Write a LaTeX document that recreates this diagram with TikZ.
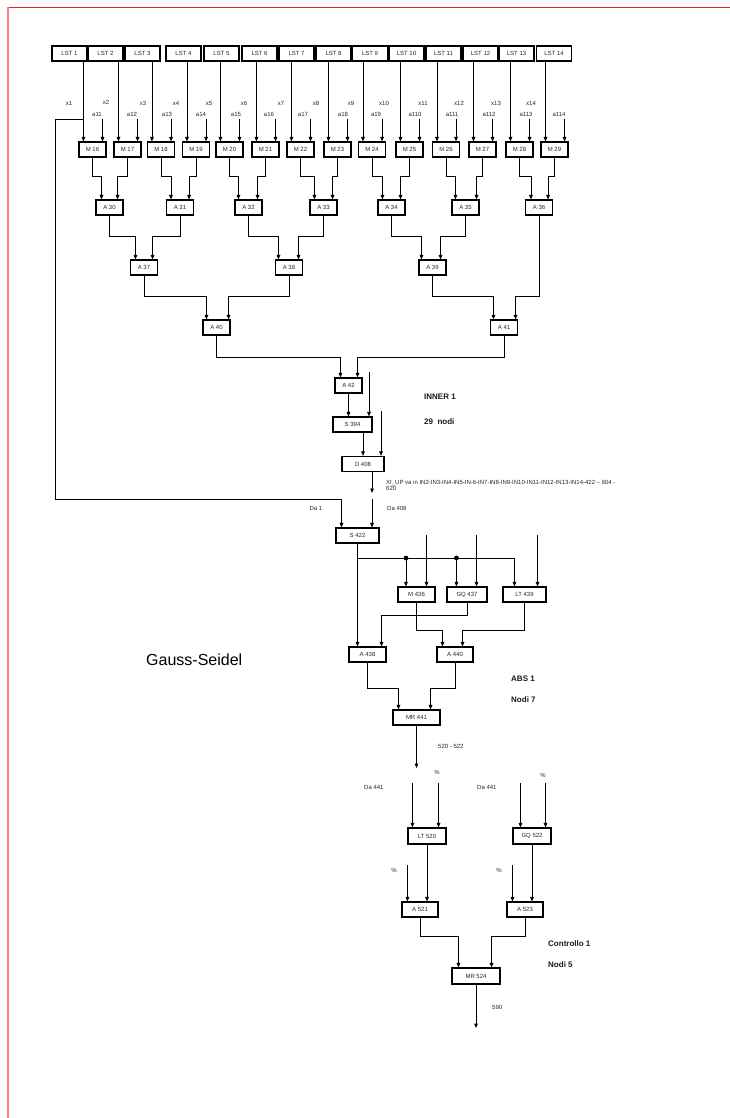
\documentclass[tikz,border=0pt]{standalone}
\usepackage{fontspec}
\setmainfont{Liberation Sans}
\usetikzlibrary{arrows.meta,calc}
\definecolor{topred}{RGB}{222,34,34}
\definecolor{leftpink}{RGB}{255,122,122}
\newcommand\lk[5]{\draw[arr] (#1.south) |- ($(#2.north #3)+(#4,-#5)$) -- ($(#2.north #3)+(#4,0)$);}
\begin{document}
\begin{tikzpicture}[x=1pt,y=-1pt,
  bx/.style={draw, line width=1.1pt, minimum height=15pt, inner sep=0pt, font=\fontsize{6}{7}\selectfont, text=black!85},
  arr/.style={line width=0.9pt, -{Triangle[length=4.5pt,width=3.6pt]}},
  ln/.style={line width=0.9pt},
  lbl/.style={font=\fontsize{6}{7}\selectfont, inner sep=0pt, text=black!85},
  big/.style={font=\bfseries\fontsize{8}{9}\selectfont, inner sep=0pt, anchor=west, text=black!90}]
\useasboundingbox (0,0) rectangle (730,1118);
% frame lines
\draw[line width=0.9pt, topred] (8,7) -- (730,7);
\draw[line width=2pt, leftpink] (8,7) -- (8,1118);

% LST row
\foreach \i/\cx in {1/69.5,2/105.5,3/142.5,4/183.5,5/221.5,6/259.5,7/296.5,8/333.5,9/370,10/406.5,11/443.5,12/480.5,13/516.5,14/554}
  \node[bx,minimum width=35pt] (lst\i) at (\cx,53.5) {LST \i};
% M row
\foreach \i/\cx in {16/92.5,17/127.5,18/161,19/196,20/229.5,21/265.5,22/300.5,23/337.5,24/372,25/409.5,26/446,27/482.5,28/519.5,29/554.5}
  \node[bx,minimum width=27pt] (m\i) at (\cx,149.5) {M \i};
% A rows
\foreach \i/\cx in {30/109.5,31/180,32/248.5,33/323.5,34/391.5,35/465.5,36/539}
  \node[bx,minimum width=27pt] (a\i) at (\cx,207.5) {A \i};
\foreach \i/\cx in {37/144,38/289,39/432.5}
  \node[bx,minimum width=27pt] (a\i) at (\cx,267.5) {A \i};
\foreach \i/\cx in {40/216.5,41/504}
  \node[bx,minimum width=27pt] (a\i) at (\cx,327.5) {A \i};
\node[bx,minimum width=27pt] (a42) at (348.5,385.5) {A 42};
\node[bx,minimum width=39pt] (s394) at (352.5,424.5) {S 394};
\node[bx,minimum width=42pt] (d408) at (363,464) {D 408};
\node[bx,minimum width=43pt] (s422) at (357.5,535.5) {S 422};
\node[bx,minimum width=37pt] (m436) at (416.5,594.5) {M 436};
\node[bx,minimum width=40pt] (gq437) at (467,594.5) {GQ 437};
\node[bx,minimum width=43pt] (lt439) at (524.5,594.5) {LT 439};
\node[bx,minimum width=37pt] (a438) at (367.5,654.5) {A 438};
\node[bx,minimum width=36pt] (a440) at (455,654.5) {A 440};
\node[bx,minimum width=47pt] (mr441) at (416.5,717.5) {MR 441};
\node[bx,minimum width=38pt,minimum height=16pt] (lt520) at (427,836) {LT 520};
\node[bx,minimum width=38pt,minimum height=16pt] (gq522) at (532,836) {GQ 522};
\node[bx,minimum width=36pt] (a521) at (420,909.5) {A 521};
\node[bx,minimum width=36pt] (a523) at (525,909.5) {A 523};
\node[bx,minimum width=48pt,minimum height=16pt] (mr524) at (476,976) {MR 524};

% labels x and a
\foreach \t/\cx/\cy in {x1/69/103,x2/106/102,x3/143/103,x4/176/103,x5/209/103,x6/244/103,x7/281/103,x8/316/103,x9/351/103,x10/384/103,x11/423/103,x12/459/103,x13/496/103,x14/531/103}
  \node[lbl] (lb\t) at (\cx,\cy) {\t};
\foreach \t/\cx in {a11/97,a12/132,a13/167,a14/201,a15/236,a16/269,a17/303,a18/343,a19/376,a110/415,a111/452,a112/489,a113/526,a114/559}
  \node[lbl] (lb\t) at (\cx,114) {\t};

% LST -> M and a -> M
\coordinate (atop) at (0,119);
\foreach \i/\m in {1/16,2/17,3/18,4/19,5/20,6/21,7/22,8/23,9/24,10/25,11/26,12/27,13/28,14/29}{
  \path (m\m.north west) ++(5,0) coordinate (li\i);
  \draw[arr] (li\i |- lst\i.south) -- (li\i);
  \path (m\m.north east) ++(-4,0) coordinate (ra\m);
  \draw[arr] (ra\m |- atop) -- (ra\m);
}

% M -> A row 1
\lk{m16}{a30}{west}{6}{23}   \lk{m17}{a30}{east}{-6}{23}
\lk{m18}{a31}{west}{5}{23}   \lk{m19}{a31}{east}{-5}{23}
\lk{m20}{a32}{west}{4}{23}   \lk{m21}{a32}{east}{-5}{23}
\lk{m22}{a33}{west}{5}{23}   \lk{m23}{a33}{east}{-5}{23}
\lk{m24}{a34}{west}{5}{23}   \lk{m25}{a34}{east}{-5}{23}
\lk{m26}{a35}{west}{4}{23}   \lk{m27}{a35}{east}{-3}{23}
\lk{m28}{a36}{west}{6}{23}   \lk{m29}{a36}{east}{-5}{23}
% row 2
\lk{a30}{a37}{west}{5.5}{23} \lk{a31}{a37}{east}{-5.5}{23}
\lk{a32}{a38}{west}{3.5}{23} \lk{a33}{a38}{east}{-4.5}{23}
\lk{a34}{a39}{west}{3}{23}   \lk{a35}{a39}{east}{-6}{23}
% row 3
\lk{a37}{a40}{west}{4}{23}   \lk{a38}{a40}{east}{-2}{23}
\lk{a39}{a41}{west}{3.5}{23} \lk{a36}{a41}{east}{-2.5}{23}
% row 4
\lk{a40}{a42}{west}{6}{20}   \lk{a41}{a42}{east}{-5}{20}

% A42 -> S394 -> D408
\draw[arr] (a42.south) -- (a42.south |- s394.north);
\coordinate (e1) at (369,372);
\draw[arr] (e1) -- (e1 |- s394.north);
\draw[arr] (d408.north |- s394.south) -- (d408.north);
\coordinate (e2) at (381,411);
\draw[arr] (e2) -- (e2 |- d408.north);
\coordinate (d1) at (372,493);
\draw[arr] (d1 |- d408.south) -- (d1);
\coordinate (d2) at (372,499);
\draw[arr] (d2) -- (d2 |- s422.north);

% x1 feedback line
\coordinate (xl) at (55,119);
\path (s422.north west) ++(6,0) coordinate (s422a);
\draw[arr] (li1 |- xl) -- (xl) |- (s422a |- d2) -- (s422a);

\node[lbl] (da1) at (316,508) {Da 1};
\node[lbl,anchor=west] (da408) at (387,508) {Da 408};
\node[lbl,anchor=north west,align=left] (xiup) at (386,479.5) {XI\_UP va in IN2-IN3-IN4-IN5-IN-6-IN7-IN8-IN9-IN10-IN11-IN12-IN13-IN14-422 -- 604 -\\[-0.5pt]620};

% ABS block
\draw[arr] (s422.south) -- (s422.south |- a438.north);
\coordinate (bus) at (0,558);
\path (m436.north west) ++(8.5,0) coordinate (m436a);
\path (gq437.north west) ++(10,0) coordinate (gq437a);
\path (lt439.north west) ++(12,0) coordinate (lt439a);
\draw[ln] (s422.south |- bus) -- (lt439a |- bus);
\fill (m436a |- bus) circle (2.4pt);
\fill (gq437a |- bus) circle (2.4pt);
\draw[arr] (m436a |- bus) -- (m436a);
\draw[arr] (gq437a |- bus) -- (gq437a);
\draw[arr] (lt439a |- bus) -- (lt439a);
\coordinate (etop) at (0,535);
\path (m436.north east) ++(-9,0) coordinate (m436b);
\path (gq437.north east) ++(-11,0) coordinate (gq437b);
\path (lt439.north east) ++(-9,0) coordinate (lt439b);
\draw[arr] (m436b |- etop) -- (m436b);
\draw[arr] (gq437b |- etop) -- (gq437b);
\draw[arr] (lt439b |- etop) -- (lt439b);

\lk{m436}{a440}{west}{6}{16}
\lk{lt439}{a440}{east}{-11}{16}
\lk{gq437}{a438}{east}{-5}{31}
\lk{a438}{mr441}{west}{6}{21}
\lk{a440}{mr441}{east}{-10}{21}

\coordinate (r1) at (0,768);
\draw[arr] (mr441.south) -- (mr441.south |- r1);
\node[lbl,anchor=west] (l520) at (438,746) {520 - 522};

% Controllo block
\coordinate (ctop) at (0,783);
\path (lt520.north west) ++(5,0) coordinate (lt520a);
\path (lt520.north east) ++(-8,0) coordinate (lt520b);
\path (gq522.north west) ++(8,0) coordinate (gq522a);
\path (gq522.north east) ++(-6,0) coordinate (gq522b);
\draw[arr] (lt520a |- ctop) -- (lt520a);
\draw[arr] (lt520b |- ctop) -- (lt520b);
\draw[arr] (gq522a |- ctop) -- (gq522a);
\draw[arr] (gq522b |- ctop) -- (gq522b);
\node[lbl] (pc1) at (437,772) {\%};
\node[lbl] (pc2) at (543,775) {\%};
\node[lbl,anchor=west] (da441a) at (364,787) {Da 441};
\node[lbl,anchor=west] (da441b) at (477,787) {Da 441};

\draw[arr] (lt520.south) -- (lt520.south |- a521.north);
\draw[arr] (gq522.south) -- (gq522.south |- a523.north);
\coordinate (ftop) at (0,865);
\path (a521.north west) ++(6,0) coordinate (a521a);
\path (a523.north west) ++(6,0) coordinate (a523a);
\draw[arr] (a521a |- ftop) -- (a521a);
\draw[arr] (a523a |- ftop) -- (a523a);
\node[lbl] (pc3) at (394,870) {\%};
\node[lbl] (pc4) at (499,870) {\%};

\lk{a521}{mr524}{west}{7}{31}
\lk{a523}{mr524}{east}{-9}{31}
\coordinate (r2) at (0,1028);
\draw[arr] (mr524.south) -- (mr524.south |- r2);
\node[lbl,anchor=west] (l590) at (492,1007) {590};

% titles
\node[big] (inner) at (424,397) {INNER 1};
\node[big] (nodi29) at (424,422) {29\ \ nodi};
\node[big] (abs) at (511,679) {ABS 1};
\node[big] (nodi7) at (511,700) {Nodi 7};
\node[big] (contr) at (548,944) {Controllo 1};
\node[big] (nodi5) at (548,965) {Nodi 5};
\node[font=\fontsize{16}{18}\selectfont, inner sep=0pt, anchor=west] (gs) at (146,660) {Gauss-Seidel};
\end{tikzpicture}
\end{document}
